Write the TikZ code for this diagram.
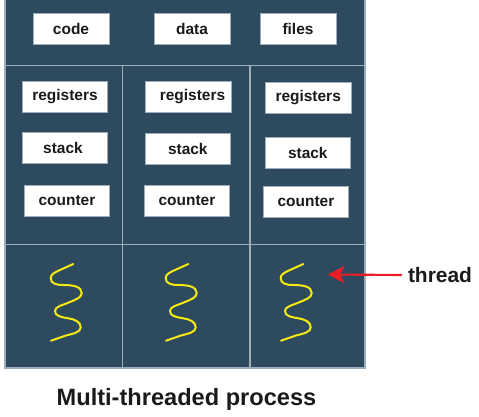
\documentclass[tikz,border=0pt]{standalone}
\usepackage{fontspec}
\setmainfont{Liberation Sans}
\usetikzlibrary{arrows.meta}
\definecolor{panel}{HTML}{2E4A5E}
\definecolor{gridline}{HTML}{9DADB9}
\definecolor{wire}{HTML}{F4E911}
\definecolor{pointer}{HTML}{EE1C25}
\definecolor{ink}{HTML}{1A1A1A}

\begin{document}
\begin{tikzpicture}[x=0.75pt, y=-0.75pt,
        box/.style = {draw=gridline, line width=0.5pt, fill=white, text=ink, inner sep=0pt,
            minimum height=23.2pt, font=\fontsize{11.6}{12}\selectfont\bfseries},
        res/.style = {box, minimum width=57pt},
        reg/.style = {box, minimum width=64.2pt},
        caption/.style = {text=ink, inner sep=0pt, font=\bfseries},
        wave/.style = {draw=wire, line width=1.5pt, line cap=round}]
        \useasboundingbox (0, 0) rectangle (479, 417);

        \fill[panel] (5, 0) rectangle (365, 368);
        \coordinate (p1) at (5, 0);
        \coordinate (p2) at (365, 0);
        \coordinate (p3) at (365, 368);
        \coordinate (p4) at (5, 368);
        \coordinate (h1) at (5, 65.5);
        \coordinate (h2) at (365, 65.5);
        \coordinate (h3) at (5, 244.5);
        \coordinate (h4) at (365, 244.5);
        \coordinate (v1) at (122.5, 65.5);
        \coordinate (v2) at (122.5, 368);
        \coordinate (v3) at (250, 65.5);
        \coordinate (v4) at (250, 368);
        \draw[gridline, line width=0.8pt] (p1) -- (p4) -- (p3) -- (p2);
        \draw[gridline, line width=0.8pt] (h1) -- (h2);
        \draw[gridline, line width=0.8pt] (h3) -- (h4);
        \draw[gridline, line width=0.8pt] (v1) -- (v2);
        \draw[gridline, line width=0.8pt] (v3) -- (v4);

        \node at (71, 29) [res] (code) {code};
        \node at (192, 29) [res] (data) {data};
        \node at (298, 29) [res] (files) {files};

        \node at (65, 97) [reg] (reg1) {registers};
        \node at (188.5, 96.5) [reg] (reg2) {\hspace{6pt}registers};
        \node at (308.2, 97.5) [reg] (reg3) {registers};
        \node at (65, 148) [reg] (stack1) {\hspace{-3pt}stack};
        \node at (187.8, 149) [reg] (stack2) {stack};
        \node at (307.8, 152.5) [reg] (stack3) {stack};
        \node at (67, 201) [reg] (counter1) {counter};
        \node at (187, 201) [reg] (counter2) {counter};
        \node at (306, 202) [reg] (counter3) {counter};

        % threads
        \foreach \dx [count=\i] in {0, 115, 230} {
            \draw[wave, xshift=0.75*\dx] (73.3, 264) -- (60, 270)
                .. controls (54, 272.8) and (50.7, 274.5) .. (50.7, 278)
                .. controls (50.7, 283.5) and (56, 285) .. (63.3, 285)
                .. controls (73, 285) and (81.7, 286.5) .. (81.7, 293)
                .. controls (81.7, 297.5) and (76, 299.5) .. (70, 302)
                .. controls (62, 305.5) and (55, 306.5) .. (55, 311)
                .. controls (55, 316) and (61, 317.2) .. (68.3, 318.3)
                .. controls (75, 319.3) and (80.7, 322) .. (80.7, 327.3)
                .. controls (80.7, 332) and (74, 333.5) .. (66, 335.5)
                -- (51, 340.7);
        }

        \node at (440, 275) [caption, font=\fontsize{15.7}{17}\selectfont\bfseries] (thread) {thread};
        \node at (186.5, 399) [caption, font=\fontsize{17.7}{20}\selectfont\bfseries] (title) {Multi-threaded process};

        \coordinate (tip) at (328, 274.5);
        \draw[-{Stealth[length=12.5pt, width=13pt, inset=3.5pt]}, pointer, line width=1.6pt]
            (thread.west) ++(-4.5pt, 0) -- (tip);
\end{tikzpicture}
\end{document}
